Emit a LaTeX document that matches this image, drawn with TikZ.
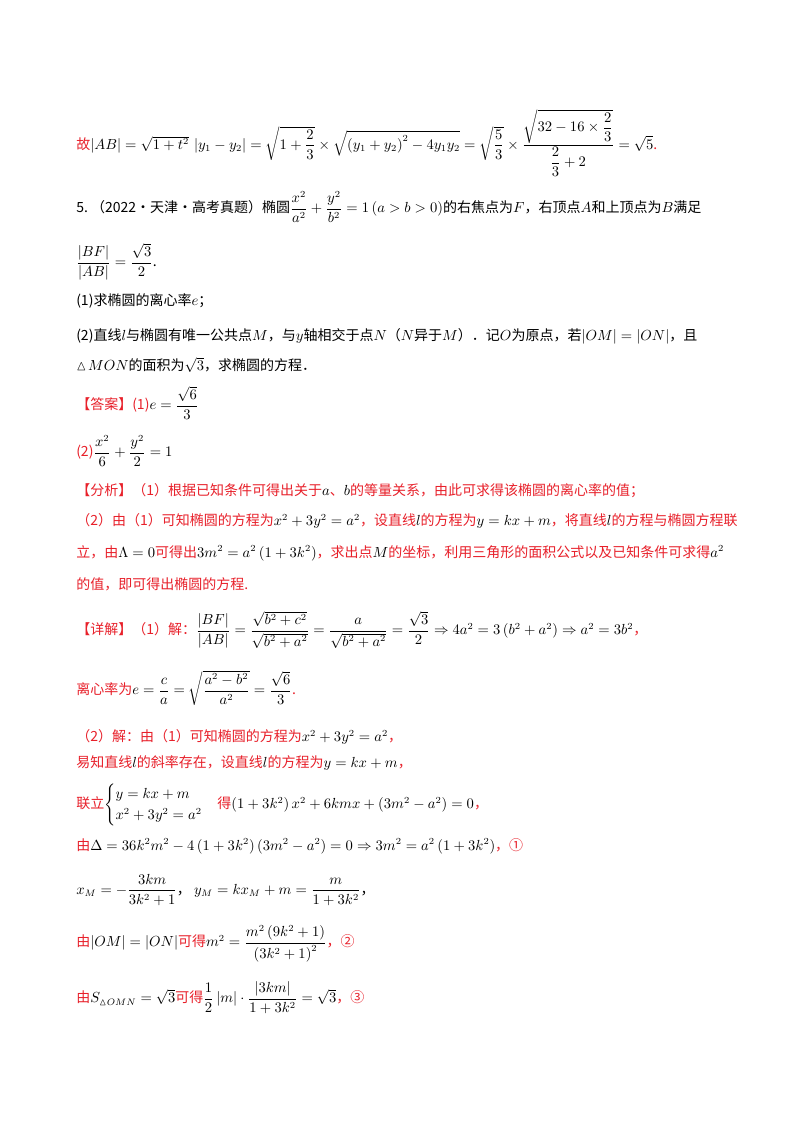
\documentclass[tikz,border=0pt]{standalone}
\usepackage{amsmath,amssymb}
\usepackage{fontspec}
\setmainfont{Noto Sans CJK SC}
\definecolor{rd}{HTML}{E8202A}
\newcommand{\rt}[1]{\textcolor{rd}{#1}}
\begin{document}
\begin{tikzpicture}[x=0.75pt,y=-0.75pt,every node/.style={anchor=west,inner sep=0pt,font=\fontsize{10.5}{13}\selectfont}]
\useasboundingbox (0,0) rectangle (800,1132);
\fill[white] (0,0) rectangle (800,1132);
\node (l1) at (76,143) {\rt{故}$\left|AB\right|=\sqrt{1+t^2}\,\left|y_1-y_2\right|=\sqrt{1+\dfrac23}\times\sqrt{\left(y_1+y_2\right)^2-4y_1y_2}=\sqrt{\dfrac53}\times\dfrac{\sqrt{32-16\times\dfrac23}}{\dfrac23+2}=\sqrt5$\rt{.}};
\node (l2) at (76,207) {5.\ （2022·天津·高考真题）椭圆$\dfrac{x^2}{a^2}+\dfrac{y^2}{b^2}=1\left(a>b>0\right)$的右焦点为$F$，右顶点$A$和上顶点为$B$满足};
\node (l3) at (76,262) {$\dfrac{\left|BF\right|}{\left|AB\right|}=\dfrac{\sqrt3}{2}$.};
\node (l4) at (76,301) {(1)求椭圆的离心率$e$；};
\node (l5) at (76,336) {(2)直线$l$与椭圆有唯一公共点$M$，与$y$轴相交于点$N$（$N$异于$M$）．记$O$为原点，若$\left|OM\right|=\left|ON\right|$，且};
\node (l6) at (76,365) {$\vartriangle\!MON$的面积为$\sqrt3$，求椭圆的方程．};
\node (l7) at (76,403) {\rt{【答案】(1)}$e=\dfrac{\sqrt6}{3}$};
\node (l8) at (76,451) {\rt{(2)}$\dfrac{x^2}{6}+\dfrac{y^2}{2}=1$};
\node (l9) at (76,491) {\rt{【分析】（1）根据已知条件可得出关于}$a$\rt{、}$b$\rt{的等量关系，由此可求得该椭圆的离心率的值；}};
\node (l10) at (76,521) {\rt{（2）由（1）可知椭圆的方程为}$x^2+3y^2=a^2$\rt{，设直线}$l$\rt{的方程为}$y=kx+m$\rt{，将直线}$l$\rt{的方程与椭圆方程联}};
\node (l11) at (76,553) {\rt{立，由}$\Lambda=0$\rt{可得出}$3m^2=a^2\left(1+3k^2\right)$\rt{，求出点}$M$\rt{的坐标，利用三角形的面积公式以及已知条件可求得}$a^2$};
\node (l12) at (76,584) {\rt{的值，即可得出椭圆的方程.}};
\node (l13) at (76,630) {\rt{【详解】（1）解：}$\dfrac{\left|BF\right|}{\left|AB\right|}=\dfrac{\sqrt{b^2+c^2}}{\sqrt{b^2+a^2}}=\dfrac{a}{\sqrt{b^2+a^2}}=\dfrac{\sqrt3}{2}\Rightarrow4a^2=3\left(b^2+a^2\right)\Rightarrow a^2=3b^2$\rt{，}};
\node (l14) at (76,688) {\rt{离心率为}$e=\dfrac{c}{a}=\sqrt{\dfrac{a^2-b^2}{a^2}}=\dfrac{\sqrt6}{3}$\rt{.}};
\node (l15) at (76,737) {\rt{（2）解：由（1）可知椭圆的方程为}$x^2+3y^2=a^2$\rt{，}};
\node (l16) at (76,763) {\rt{易知直线}$l$\rt{的斜率存在，设直线}$l$\rt{的方程为}$y=kx+m$\rt{，}};
\node (l17) at (76,805) {\rt{联立}$\begin{cases}y=kx+m\\x^2+3y^2=a^2\end{cases}$\rt{得}$\left(1+3k^2\right)x^2+6kmx+\left(3m^2-a^2\right)=0$\rt{，}};
\node (l18) at (76,846) {\rt{由}$\Delta=36k^2m^2-4\left(1+3k^2\right)\left(3m^2-a^2\right)=0\Rightarrow3m^2=a^2\left(1+3k^2\right)$\rt{，①}};
\node (l19) at (76,890) {$x_M=-\dfrac{3km}{3k^2+1}$，\ $y_M=kx_M+m=\dfrac{m}{1+3k^2}$，};
\node (l20) at (76,944) {\rt{由}$\left|OM\right|=\left|ON\right|$\rt{可得}$m^2=\dfrac{m^2\left(9k^2+1\right)}{\left(3k^2+1\right)^2}$\rt{，②}};
\node (l21) at (76,998) {\rt{由}$S_{\vartriangle OMN}=\sqrt3$\rt{可得}$\dfrac12\left|m\right|\cdot\dfrac{\left|3km\right|}{1+3k^2}=\sqrt3$\rt{，③}};
\end{tikzpicture}
\end{document}
